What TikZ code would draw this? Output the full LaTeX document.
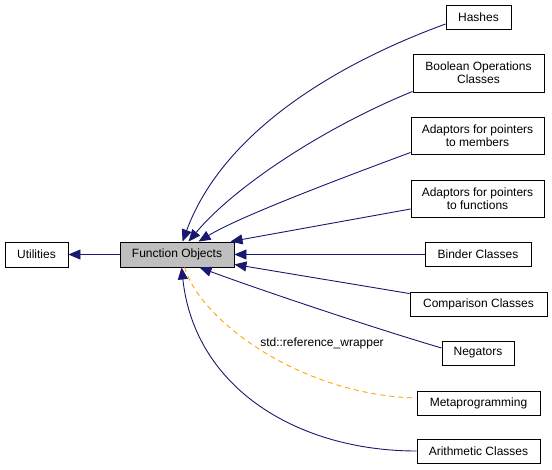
\documentclass[tikz,border=0pt]{standalone}
\usepackage{fontspec}
\setmainfont{Liberation Sans}
\usetikzlibrary{arrows.meta}
\definecolor{edgeblue}{RGB}{25,25,112}
\definecolor{edgeorange}{RGB}{255,165,0}
\definecolor{fogray}{RGB}{191,191,191}
\tikzset{
  box/.style={draw=black, line width=0.9pt, fill=white, inner sep=0pt, align=center,
    font=\fontsize{12}{13.3}\selectfont},
  edge/.style={draw=edgeblue, line width=0.9pt, -{Triangle[length=12pt,width=10pt]}},
  reledge/.style={draw=edgeorange, line width=0.9pt, dash pattern=on 5pt off 4pt},
  lbl/.style={font=\fontsize{12}{13.3}\selectfont, inner sep=0pt}
}
\begin{document}
\begin{tikzpicture}[x=1pt,y=-1pt]
\useasboundingbox (0,0) rectangle (552,469);
\fill[white] (0,0) rectangle (552,469);

\node[box, minimum width=63pt, minimum height=25pt] (util) at (36.5,254.5) {Utilities};
\node[box, fill=fogray, minimum width=114pt, minimum height=25pt] (fo) at (177,254.5) {Function Objects};
\node[box, minimum width=65pt, minimum height=24pt] (hashes) at (478.5,17) {Hashes};
\node[box, minimum width=131pt, minimum height=38pt] (bool) at (478.5,73) {Boolean Operations\\Classes};
\node[box, minimum width=133pt, minimum height=37pt] (amem) at (477.5,135.5) {Adaptors for pointers\\to members};
\node[box, minimum width=133pt, minimum height=37pt] (afun) at (477.5,198.5) {Adaptors for pointers\\to functions};
\node[box, minimum width=106pt, minimum height=24pt] (binder) at (478,254.5) {Binder Classes};
\node[box, minimum width=137pt, minimum height=24pt] (comp) at (478.5,304) {Comparison Classes};
\node[box, minimum width=72pt, minimum height=24pt] (neg) at (478,353) {Negators};
\node[box, minimum width=123pt, minimum height=24pt] (meta) at (478.5,403) {Metaprogramming};
\node[box, minimum width=123pt, minimum height=24pt] (arith) at (478.5,451) {Arithmetic Classes};

\draw[edge] (fo.west) -- (util.east);

\draw[edge] ([yshift=-7pt]hashes.west) .. controls (336,64) and (223,132) .. ([xshift=63pt]fo.north west);
\draw[edge] ([yshift=1pt]bool.south west) .. controls (323,128) and (234,187) .. ([xshift=69pt]fo.north west);
\draw[edge] ([yshift=2pt]amem.south west) .. controls (331,182) and (239,217) .. ([xshift=79pt]fo.north west);
\draw[edge] ([yshift=-10.5pt]afun.west) -- ([xshift=111pt]fo.north west);
\draw[edge] (binder.west) -- (fo.east);
\draw[edge] ([yshift=-2pt]comp.north west) -- ([yshift=3pt]fo.south east);
\draw[edge] ([yshift=5pt]neg.west) .. controls (380,330) and (260,290) .. ([xshift=80pt]fo.south west);
\draw[edge] (arith.west) .. controls (300,451) and (195,390) .. ([xshift=62pt]fo.south west);

\draw[reledge] ([xshift=65pt]fo.south west) .. controls (200,320) and (300,395) .. ([yshift=5pt]meta.west);
\node[lbl] (rw) at (322,343) {std::reference\_wrapper};
\end{tikzpicture}
\end{document}
